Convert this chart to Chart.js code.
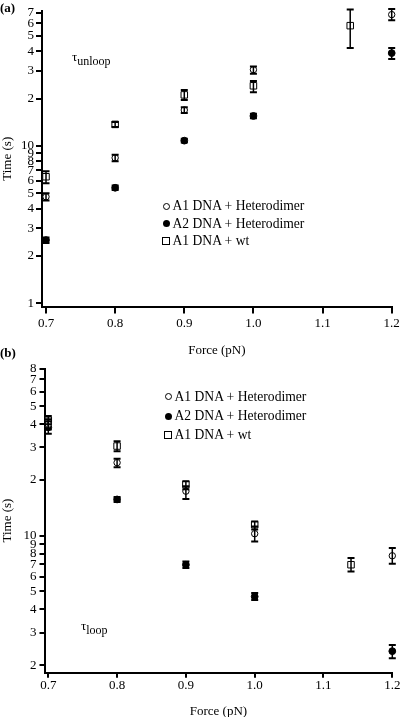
<!DOCTYPE html>
<html><head><meta charset="utf-8">
<script src="https://cdn.jsdelivr.net/npm/chart.js@4"></script>
<style>
html,body{margin:0;padding:0;background:#fff;overflow:hidden;}
body{width:401px;height:717px;position:relative;font-family:"Liberation Serif","Times New Roman",serif;color:#000;}
.cw{position:absolute;left:0;}
.t{position:absolute;font-size:13px;line-height:13px;white-space:nowrap;}
.lg{font-size:13.6px;}
.b{font-weight:bold;}
.sub{font-size:12px;position:relative;top:4px;}
.m{position:absolute;box-sizing:border-box;}
.mo{width:7px;height:7px;border:1px solid #000;border-radius:50%;background:#fff;}
.mf{width:7px;height:7px;border-radius:50%;background:#000;}
.ms{width:8px;height:8px;border:1px solid #000;background:#fff;}
</style>
</head><body>
<div class="cw" style="top:0"><canvas id="ca" width="401" height="360"></canvas></div>
<div class="cw" style="top:358px"><canvas id="cb" width="401" height="359"></canvas></div>

<div class="t b" style="left:0;top:1px">(a)</div>
<div class="t" style="left:72px;top:50px">τ<span class="sub">unloop</span></div>
<div class="m mo" style="left:162.5px;top:202.5px"></div>
<div class="t lg" style="left:172.5px;top:199px">A1 DNA + Heterodimer</div>
<div class="m mf" style="left:162.5px;top:220px"></div>
<div class="t lg" style="left:172.5px;top:216.5px">A2 DNA + Heterodimer</div>
<div class="m ms" style="left:162px;top:236.7px"></div>
<div class="t lg" style="left:172.5px;top:233.5px">A1 DNA + wt</div>

<div class="t b" style="left:0;top:346px">(b)</div>
<div class="t" style="left:81px;top:619px">τ<span class="sub">loop</span></div>
<div class="m mo" style="left:164.5px;top:393px"></div>
<div class="t lg" style="left:174.5px;top:390px">A1 DNA + Heterodimer</div>
<div class="m mf" style="left:164.5px;top:412.5px"></div>
<div class="t lg" style="left:174.5px;top:409px">A2 DNA + Heterodimer</div>
<div class="m ms" style="left:164px;top:431px"></div>
<div class="t lg" style="left:174.5px;top:428px">A1 DNA + wt</div>

<script>
// ---------- Data: panel (a) tau_unloop ----------
const forceA_het1 = [0.7, 0.8, 0.9, 1.0, 1.2];
const timeA_het1  = [4.75, 8.4, 16.9, 30.5, 68.3];
const loA_het1    = [4.5, 8.0, 16.2, 28.7, 62.8];
const hiA_het1    = [5.0, 8.8, 17.6, 32.0, 74.2];

const forceA_het2 = [0.7, 0.8, 0.9, 1.0, 1.2];
const timeA_het2  = [2.52, 5.42, 10.8, 15.5, 38.9];
const loA_het2    = [2.42, 5.25, 10.5, 15.0, 35.7];
const hiA_het2    = [2.62, 5.6, 11.1, 16.0, 41.9];

const forceA_wt = [0.7, 0.8, 0.9, 1.0, 1.14];
const timeA_wt  = [6.37, 13.7, 21.1, 24.1, 58.1];
const loA_wt    = [5.8, 13.2, 19.6, 21.9, 41.9];
const hiA_wt    = [6.9, 14.2, 22.7, 25.9, 73.5];

// ---------- Data: panel (b) tau_loop ----------
const forceB_het1 = [0.7, 0.8, 0.9, 1.0, 1.2];
const timeB_het1  = [40, 24.8, 17.4, 10.25, 7.79];
const loB_het1    = [37.5, 23.4, 15.8, 9.3, 7.05];
const hiB_het1    = [42.5, 26.0, 18.5, 11.2, 8.58];

const forceB_het2 = [0.7, 0.8, 0.9, 1.0, 1.2];
const timeB_het2  = [38.5, 15.7, 6.97, 4.69, 2.38];
const loB_het2    = [35.5, 15.2, 6.7, 4.5, 2.18];
const hiB_het2    = [41.5, 16.2, 7.25, 4.9, 2.57];

const forceB_wt = [0.7, 0.8, 0.9, 1.0, 1.14];
const timeB_wt  = [42, 30.5, 18.9, 11.47, 6.97];
const loB_wt    = [40, 28.6, 17.8, 10.8, 6.41];
const hiB_wt    = [44.3, 32.4, 19.7, 11.95, 7.57];

// ---------- Ticks ----------
const xTicks = [0.7, 0.8, 0.9, 1.0, 1.1, 1.2];
const xTickLabels = ['0.7', '0.8', '0.9', '1.0', '1.1', '1.2'];
const yTicksA = [1,2,3,4,5,6,7,8,9,10,20,30,40,50,60,70];
const yTickLabelsA = ['1','2','3','4','5','6','7','8','9','10','2','3','4','5','6','7'];
const yTicksB = [2,3,4,5,6,7,8,9,10,20,30,40,50,60,70,80];
const yTickLabelsB = ['2','3','4','5','6','7','8','9','10','2','3','4','5','6','7','8'];

const seriesNames = ['A1 DNA + Heterodimer', 'A2 DNA + Heterodimer', 'A1 DNA + wt'];

function pts(f, t, lo, hi) { return f.map((x, i) => ({x: x, y: t[i], lo: lo[i], hi: hi[i]})); }

const errorBars = {
  id: 'errorBars',
  afterDatasetsDraw(chart) {
    const ctx = chart.ctx, xs = chart.scales.x, ys = chart.scales.y;
    ctx.save();
    ctx.strokeStyle = '#000';
    chart.data.datasets.forEach(ds => {
      ds.data.forEach(p => {
        const x = xs.getPixelForValue(p.x);
        const y1 = ys.getPixelForValue(p.lo), y2 = ys.getPixelForValue(p.hi);
        ctx.lineWidth = 1.5;
        ctx.beginPath(); ctx.moveTo(x, y1); ctx.lineTo(x, y2); ctx.stroke();
        ctx.lineWidth = 2;
        ctx.beginPath();
        ctx.moveTo(x - 3.5, y1); ctx.lineTo(x + 3.5, y1);
        ctx.moveTo(x - 3.5, y2); ctx.lineTo(x + 3.5, y2);
        ctx.stroke();
      });
    });
    ctx.restore();
  }
};

function datasets(d) {
  return [
    {label: seriesNames[0], data: d[0], pointStyle: 'circle', pointRadius: 3.2, pointBackgroundColor: '#fff', pointBorderColor: '#000', pointBorderWidth: 1},
    {label: seriesNames[1], data: d[1], pointStyle: 'circle', pointRadius: 3.4, pointBackgroundColor: '#000', pointBorderColor: '#000', pointBorderWidth: 1},
    {label: seriesNames[2], data: d[2], pointStyle: 'rect', pointRadius: 4.6, pointBackgroundColor: '#fff', pointBorderColor: '#000', pointBorderWidth: 1}
  ].map(ds => Object.assign(ds, {showLine: false, clip: false, pointHoverRadius: ds.pointRadius}));
}

const font = {family: '"Liberation Serif","Times New Roman",serif', size: 13};

function makeChart(id, d, c) {
  return new Chart(document.getElementById(id), {
    type: 'scatter',
    data: {datasets: datasets(d)},
    options: {
      responsive: false, animation: false, devicePixelRatio: 1,
      layout: {padding: c.pad},
      plugins: {legend: {display: false}, tooltip: {enabled: false}},
      scales: {
        x: {
          type: 'linear', min: c.xmin, max: 1.2,
          afterBuildTicks: s => { s.ticks = xTicks.map(v => ({value: v})); },
          afterFit: s => { s.height = c.xh; s.paddingLeft = 0; s.paddingRight = 0; },
          ticks: {autoSkip: false, maxRotation: 0, color: '#000', font: font, padding: c.xpad,
                  callback: (v, i) => xTickLabels[i]},
          grid: {drawOnChartArea: false, drawTicks: true, tickLength: c.xtl, color: '#000', lineWidth: 2},
          border: {display: true, color: '#000', width: 2},
          title: {display: true, text: 'Force (pN)', color: '#000', font: Object.assign({lineHeight: 1}, font), padding: {top: 0, bottom: c.tpad}}
        },
        y: {
          type: 'logarithmic', min: c.ymin, max: c.ymax,
          afterBuildTicks: s => { s.ticks = c.yt.map(v => ({value: v})); },
          afterFit: s => { s.width = c.yw; s.paddingTop = 0; s.paddingBottom = 0; },
          ticks: {autoSkip: false, color: '#000', font: font, padding: c.ypad,
                  callback: (v, i) => c.yl[i]},
          grid: {drawOnChartArea: false, drawTicks: true, tickLength: c.ytl, color: '#000', lineWidth: 2},
          border: {display: true, color: '#000', width: 2},
          title: {display: true, text: 'Time (s)', color: '#000', font: Object.assign({lineHeight: 1}, font), padding: {top: 1, bottom: 0}}
        }
      }
    },
    plugins: [errorBars]
  });
}

makeChart('ca', [
  pts(forceA_het1, timeA_het1, loA_het1, hiA_het1),
  pts(forceA_het2, timeA_het2, loA_het2, hiA_het2),
  pts(forceA_wt, timeA_wt, loA_wt, hiA_wt)
], {pad: {top: 11, right: 9.3, bottom: 0, left: 0}, xmin: 0.6942, xh: 53.5, xpad: 2, xtl: 7, tpad: 2.5,
    ymin: 0.954, ymax: 72, yt: yTicksA, yl: yTickLabelsA, yw: 42, ypad: 2, ytl: 6});

makeChart('cb', [
  pts(forceB_het1, timeB_het1, loB_het1, hiB_het1),
  pts(forceB_het2, timeB_het2, loB_het2, hiB_het2),
  pts(forceB_wt, timeB_wt, loB_wt, hiB_wt)
], {pad: {top: 10.5, right: 8.7, bottom: 0, left: 0}, xmin: 0.6945, xh: 44.3, xpad: 0, xtl: 5, tpad: -1,
    ymin: 1.82, ymax: 80, yt: yTicksB, yl: yTickLabelsB, yw: 44.5, ypad: 3, ytl: 5});
</script>
</body></html>
